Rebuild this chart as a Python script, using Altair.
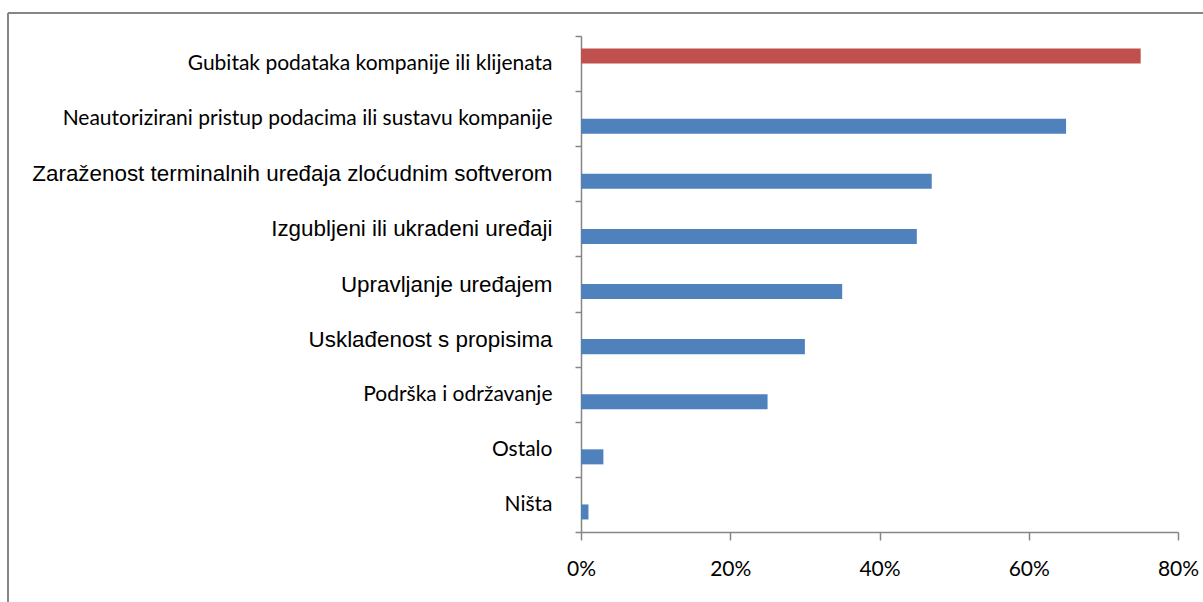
import altair as alt
import pandas as pd

categories = [
    "Gubitak podataka kompanije ili klijenata",
    "Neautorizirani pristup podacima ili sustavu kompanije",
    "Zaraženost terminalnih uređaja zloćudnim softverom",
    "Izgubljeni ili ukradeni uređaji",
    "Upravljanje uređajem",
    "Usklađenost s propisima",
    "Podrška i održavanje",
    "Ostalo",
    "Ništa",
]
values = [0.75, 0.65, 0.47, 0.45, 0.35, 0.30, 0.25, 0.03, 0.01]
series = ["A", "B", "B", "B", "B", "B", "B", "B", "B"]
arial_labels = [
    "Zaraženost terminalnih uređaja zloćudnim softverom",
    "Izgubljeni ili ukradeni uređaji",
    "Upravljanje uređajem",
    "Usklađenost s propisima",
]
x_ticks = [0, 0.2, 0.4, 0.6, 0.8]

df = pd.DataFrame({"category": categories, "value": values, "series": series})

test_expr = "indexof([" + ",".join("'" + s + "'" for s in arial_labels) + "], datum.value) >= 0"

GRAY = "#868686"

bars = alt.Chart(df).mark_bar().encode(
    y=alt.Y(
        "category:N",
        sort=categories,
        scale=alt.Scale(paddingInner=0, paddingOuter=0),
        axis=alt.Axis(
            title=None,
            tickBand="extent",
            tickSize=6,
            tickWidth=1.5,
            tickColor=GRAY,
            domainColor=GRAY,
            domainWidth=1.5,
            labelPadding=23,
            labelColor="#000000",
            labelLimit=600,
            labelFont={"condition": {"test": test_expr, "value": "Liberation Sans"}, "value": "Lato"},
            labelFontSize={"condition": {"test": test_expr, "value": 22.4}, "value": 21},
        ),
    ),
    yOffset=alt.YOffset(
        "series:N",
        scale=alt.Scale(domain=["A", "B"], paddingInner=0, paddingOuter=0.833),
    ),
    x=alt.X(
        "value:Q",
        scale=alt.Scale(domain=[0, 0.8]),
        axis=alt.Axis(
            title=None,
            values=x_ticks,
            format=".0%",
            grid=False,
            labelFlush=False,
            tickSize=8,
            tickWidth=1.5,
            tickColor=GRAY,
            domainColor=GRAY,
            domainWidth=1.5,
            labelPadding=18,
            labelFont="Lato",
            labelFontSize=21,
            labelColor="#000000",
        ),
    ),
    color=alt.Color(
        "series:N",
        scale=alt.Scale(domain=["A", "B"], range=["#C0504D", "#4F81BD"]),
        legend=None,
    ),
)

frame_left = alt.Chart(df).mark_rule(color=GRAY, strokeWidth=1.5).encode(
    x=alt.value(-573), y=alt.value(-23), y2=alt.value(600)
)
frame_top = alt.Chart(df).mark_rule(color=GRAY, strokeWidth=1.5).encode(
    x=alt.value(-573), x2=alt.value(700), y=alt.value(-23)
)

chart = alt.layer(frame_left, frame_top, bars).properties(
    width=597,
    height=496,
    padding={"left": 581, "top": 36, "right": 25, "bottom": 70},
    autosize=alt.AutoSizeParams(type="none"),
    background="white",
).configure_view(stroke=None)

chart.save("out.html", embed_options={"renderer": "svg", "actions": False})
